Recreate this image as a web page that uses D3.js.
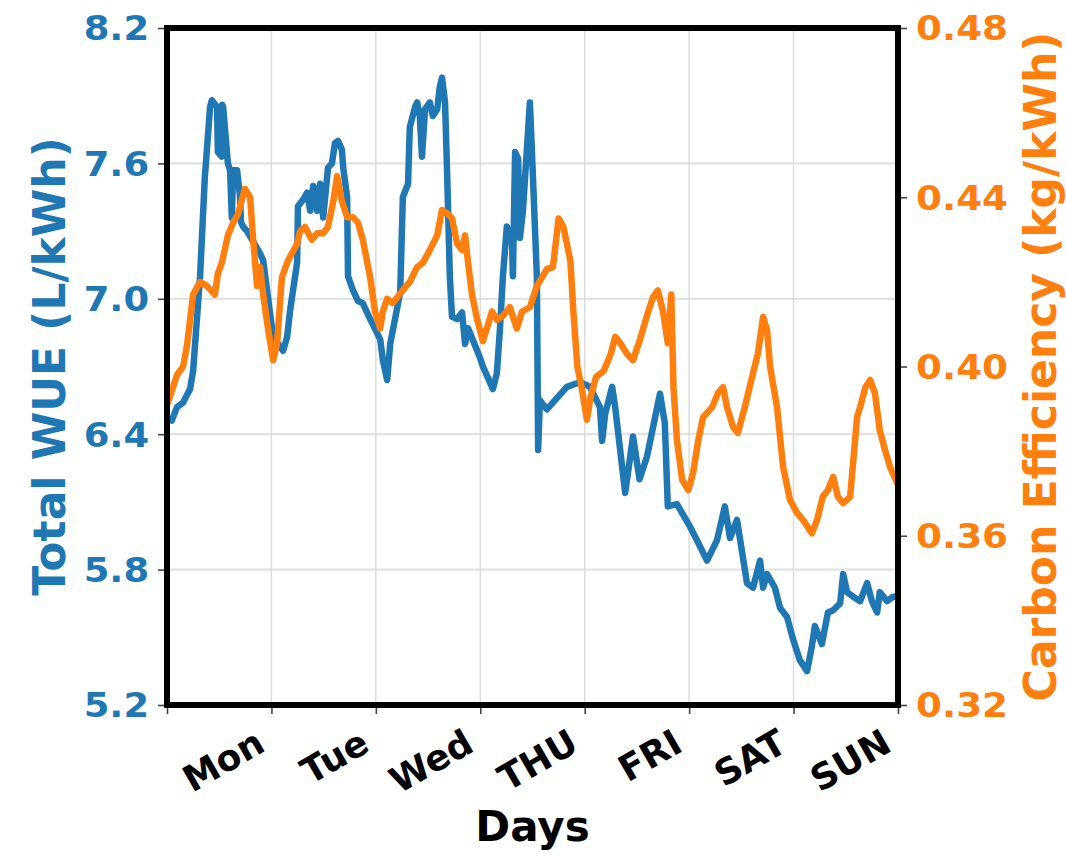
<!DOCTYPE html>
<html>
<head>
<meta charset="utf-8">
<script src="https://cdn.jsdelivr.net/npm/d3@7"></script>
<style>
  html, body { margin: 0; padding: 0; background: #fff; }
  svg { display: block; font-family: "DejaVu Sans", sans-serif; font-weight: bold; }
</style>
</head>
<body>
<svg id="chart" width="1066" height="856"></svg>
<script>
// Hour-of-week ticks and their day names
const dayTicks = [0, 24, 48, 72, 96, 120, 144, 168];
const dayLabels = ["", "Mon", "Tue", "Wed", "THU", "FRI", "SAT", "SUN"];
const wueTicks = [5.2, 5.8, 6.4, 7.0, 7.6, 8.2];
const carbonTicks = [0.32, 0.36, 0.40, 0.44, 0.48];

// Total WUE (L/kWh): [hour, value]
const wueReadings = [
  [0,6.47],[1.1,6.46],[2.3,6.52],[3.7,6.54],[5.3,6.60],[6.0,6.68],[7.6,7.10],[8.7,7.54],
  [9.9,7.85],[10.3,7.88],[11.5,7.85],[11.7,7.65],[12.6,7.63],[12.7,7.86],[12.9,7.85],
  [14.0,7.60],[14.5,7.57],[14.9,7.36],[15.2,7.57],[16.1,7.57],[16.8,7.45],[17.0,7.34],
  [17.5,7.32],[18.4,7.30],[21.4,7.20],[22.1,7.17],[24.4,6.83],[26.7,6.77],[27.6,6.83],
  [28.3,6.95],[29.9,7.16],[30.1,7.41],[31.3,7.44],[32.2,7.47],[32.9,7.39],[33.6,7.50],
  [34.5,7.39],[35.2,7.51],[35.9,7.36],[37.0,7.58],[37.9,7.60],[38.6,7.69],[39.3,7.70],
  [40.2,7.66],[40.5,7.58],[41.4,7.45],[41.6,7.10],[42.7,7.04],[43.9,6.99],[45.0,6.98],
  [46.7,6.91],[49.0,6.82],[49.6,6.73],[50.6,6.64],[51.3,6.80],[53.6,7.03],[54.2,7.45],
  [55.4,7.51],[55.8,7.76],[57.0,7.85],[57.5,7.87],[58.1,7.81],[58.6,7.63],[59.3,7.84],
  [60.4,7.87],[61.1,7.81],[62.1,7.84],[62.7,7.94],[63.2,7.98],[63.9,7.87],[64.4,7.54],
  [65.0,7.10],[65.5,6.92],[66.7,6.91],[67.8,6.94],[68.5,6.80],[69.2,6.87],[71.9,6.74],
  [72.6,6.70],[74.9,6.60],[75.8,6.67],[76.5,6.86],[77.2,7.10],[78.1,7.32],[79.3,7.25],
  [79.5,7.10],[80.0,7.65],[80.7,7.62],[81.1,7.27],[81.8,7.39],[83.4,7.87],[84.1,7.54],
  [85.0,7.10],[85.3,6.33],[85.7,6.55],[87.3,6.51],[89.6,6.56],[91.9,6.61],[94.9,6.63],
  [97.2,6.61],[99.5,6.52],[100.0,6.37],[100.7,6.49],[102.3,6.61],[103.0,6.52],[105.3,6.14],
  [107.1,6.39],[108.6,6.20],[110.3,6.30],[113.3,6.58],[114.4,6.45],[115.1,6.08],[117.2,6.09],
  [120.2,5.99],[121.8,5.93],[124.1,5.84],[126.4,5.93],[128.2,6.08],[129.4,5.94],[131.0,6.02],
  [133.3,5.74],[134.7,5.72],[136.3,5.84],[137.0,5.72],[137.9,5.78],[139.7,5.72],[140.9,5.63],
  [142.5,5.59],[143.9,5.49],[145.4,5.40],[147.1,5.35],[148.2,5.46],[148.9,5.55],[150.5,5.47],
  [151.9,5.61],[153.1,5.62],[154.7,5.65],[155.4,5.78],[156.3,5.70],[157.7,5.68],[159.3,5.66],
  [160.9,5.74],[162.0,5.66],[163.2,5.61],[163.8,5.70],[165.5,5.66],[166.9,5.68],[168,5.68]
];

// Carbon efficiency (kg/kWh): [hour, value]
const carbonReadings = [
  [0,0.391],[0.7,0.393],[2.3,0.398],[3.7,0.400],[4.6,0.405],[6.0,0.417],[7.6,0.420],
  [9.2,0.419],[11.0,0.417],[11.7,0.422],[12.6,0.4245],[14.0,0.431],[15.2,0.434],[16.3,0.436],
  [17.9,0.442],[19.1,0.440],[19.8,0.430],[20.7,0.419],[21.4,0.4235],[22.1,0.417],[23.2,0.409],
  [24.4,0.4015],[25.3,0.4055],[26.4,0.421],[27.6,0.4245],[28.3,0.426],[29.9,0.429],[30.6,0.432],
  [31.7,0.433],[33.3,0.430],[34.5,0.4315],[35.9,0.4315],[37.0,0.433],[38.2,0.439],[39.1,0.445],
  [40.2,0.439],[41.4,0.4353],[42.7,0.4353],[43.9,0.434],[45.0,0.430],[46.7,0.421],[47.8,0.413],
  [49.0,0.409],[49.6,0.413],[50.6,0.416],[51.9,0.415],[54.2,0.418],[55.8,0.420],[57.5,0.4235],
  [58.8,0.4245],[60.4,0.4275],[62.1,0.431],[63.2,0.437],[64.6,0.436],[65.5,0.435],[66.7,0.429],
  [67.8,0.4275],[68.5,0.431],[69.2,0.4245],[70.1,0.417],[71.3,0.411],[72.6,0.406],[73.8,0.410],
  [74.7,0.413],[75.8,0.411],[77.2,0.412],[78.8,0.414],[80.4,0.409],[81.6,0.413],[83.4,0.414],
  [85.0,0.419],[87.3,0.423],[88.7,0.4235],[90.0,0.435],[91.1,0.433],[92.7,0.425],[93.4,0.413],
  [94.3,0.400],[95.4,0.3944],[96.5,0.3874],[97.4,0.393],[98.6,0.3975],[100.4,0.399],[102.0,0.403],
  [103.0,0.407],[104.2,0.4055],[105.7,0.403],[107.1,0.4015],[108.6,0.406],[110.3,0.412],
  [111.7,0.4164],[112.8,0.418],[114.0,0.413],[115.1,0.4055],[115.9,0.417],[116.4,0.395],
  [117.2,0.3826],[118.4,0.3732],[119.8,0.3708],[120.9,0.3748],[122.1,0.3826],[123.2,0.388],
  [125.3,0.3904],[126.6,0.3937],[127.8,0.3951],[128.7,0.3904],[130.1,0.3857],[131.2,0.3843],
  [132.8,0.3904],[134.7,0.3985],[135.8,0.403],[137.0,0.4117],[137.9,0.4086],[138.6,0.400],
  [140.2,0.3904],[141.6,0.3762],[143.2,0.3684],[144.8,0.3654],[146.2,0.3637],[148.2,0.3606],
  [149.4,0.3637],[150.7,0.3692],[151.9,0.3708],[153.1,0.3739],[154.2,0.3692],[155.4,0.3677],
  [157.0,0.3692],[158.6,0.3881],[159.3,0.3904],[160.5,0.3951],[161.6,0.3968],[162.7,0.3937],
  [163.8,0.385],[165.0,0.3803],[166.2,0.3762],[168,0.372]
];

const BLUE = "#1f77b4";
const ORANGE = "#ff7f0e";

const plot = { left: 167, right: 898, top: 28, bottom: 705 };
const svg = d3.select("#chart");

const x = d3.scaleLinear().domain([0, 168]).range([plot.left, plot.right]);
const yW = d3.scaleLinear().domain([5.2, 8.2]).range([plot.bottom, plot.top]);
const yC = d3.scaleLinear().domain([0.32, 0.48]).range([plot.bottom, plot.top]);

// grid
const grid = svg.append("g");
grid.selectAll("line.h")
  .data(wueTicks.slice(1, -1))
  .join("line")
  .attr("x1", plot.left).attr("x2", plot.right)
  .attr("y1", d => yW(d)).attr("y2", d => yW(d))
  .attr("stroke", "#e2e2e2").attr("stroke-width", 2.2);
grid.selectAll("line.v")
  .data(dayTicks.slice(1, -1))
  .join("line")
  .attr("y1", plot.top).attr("y2", plot.bottom)
  .attr("x1", d => x(d)).attr("x2", d => x(d))
  .attr("stroke", "#dadada").attr("stroke-width", 1.4);

// series lines
const wueLine = d3.line().x(d => x(d[0])).y(d => yW(d[1]));
const carbonLine = d3.line().x(d => x(d[0])).y(d => yC(d[1]));

svg.append("path")
  .datum(wueReadings)
  .attr("d", wueLine)
  .attr("fill", "none")
  .attr("stroke", BLUE)
  .attr("stroke-width", 6.5)
  .attr("stroke-linejoin", "round")
  .attr("stroke-linecap", "butt");

svg.append("path")
  .datum(carbonReadings)
  .attr("d", carbonLine)
  .attr("fill", "none")
  .attr("stroke", ORANGE)
  .attr("stroke-width", 6.5)
  .attr("stroke-linejoin", "round")
  .attr("stroke-linecap", "butt");

// axes
function styleTicks(g) {
  g.select(".domain").remove();
  g.selectAll(".tick line").attr("stroke", "#444").attr("stroke-width", 1.6);
}

const leftAxis = svg.append("g")
  .attr("transform", `translate(${plot.left},0)`)
  .call(d3.axisLeft(yW).tickValues(wueTicks).tickFormat(d3.format(".1f")).tickSize(9).tickPadding(7));
styleTicks(leftAxis);
leftAxis.selectAll(".tick text")
  .attr("fill", BLUE)
  .attr("font-size", 33)
  .attr("font-family", "DejaVu Sans")
  .attr("font-weight", "bold")
  .attr("dy", "0.36em")
  .attr("transform", "scale(1.12,1)");

const rightAxis = svg.append("g")
  .attr("transform", `translate(${plot.right},0)`)
  .call(d3.axisRight(yC).tickValues(carbonTicks).tickFormat(d3.format(".2f")).tickSize(9).tickPadding(7));
styleTicks(rightAxis);
rightAxis.selectAll(".tick text")
  .attr("fill", ORANGE)
  .attr("font-size", 33)
  .attr("font-family", "DejaVu Sans")
  .attr("font-weight", "bold")
  .attr("dy", "0.36em")
  .attr("transform", "scale(1.13,1)");

const bottomAxis = svg.append("g")
  .attr("transform", `translate(0,${plot.bottom})`)
  .call(d3.axisBottom(x).tickValues(dayTicks).tickFormat((d, i) => dayLabels[i]).tickSize(9));
styleTicks(bottomAxis);
bottomAxis.selectAll(".tick text")
  .attr("fill", "#000")
  .attr("font-size", 36)
  .attr("font-family", "DejaVu Sans")
  .attr("font-weight", "bold")
  .attr("x", 0).attr("y", 0).attr("dy", null)
  .attr("text-anchor", "end")
  .attr("transform", "translate(-5,45) rotate(-30)");

// frame
svg.append("rect")
  .attr("x", plot.left).attr("y", plot.top)
  .attr("width", plot.right - plot.left)
  .attr("height", plot.bottom - plot.top)
  .attr("fill", "none")
  .attr("stroke", "#000")
  .attr("stroke-width", 6);

// axis titles
const midY = (plot.top + plot.bottom) / 2;
svg.append("text")
  .attr("transform", `translate(65,${midY}) rotate(-90)`)
  .attr("text-anchor", "middle")
  .attr("font-size", 44)
  .attr("fill", BLUE)
  .text("Total WUE (L/kWh)");

svg.append("text")
  .attr("transform", `translate(1056,${midY}) rotate(-90)`)
  .attr("text-anchor", "middle")
  .attr("font-size", 44)
  .attr("fill", ORANGE)
  .text("Carbon Efficiency (kg/kWh)");

svg.append("text")
  .attr("x", (plot.left + plot.right) / 2)
  .attr("y", 841)
  .attr("text-anchor", "middle")
  .attr("font-size", 42)
  .attr("fill", "#000")
  .text("Days");
</script>
</body>
</html>
